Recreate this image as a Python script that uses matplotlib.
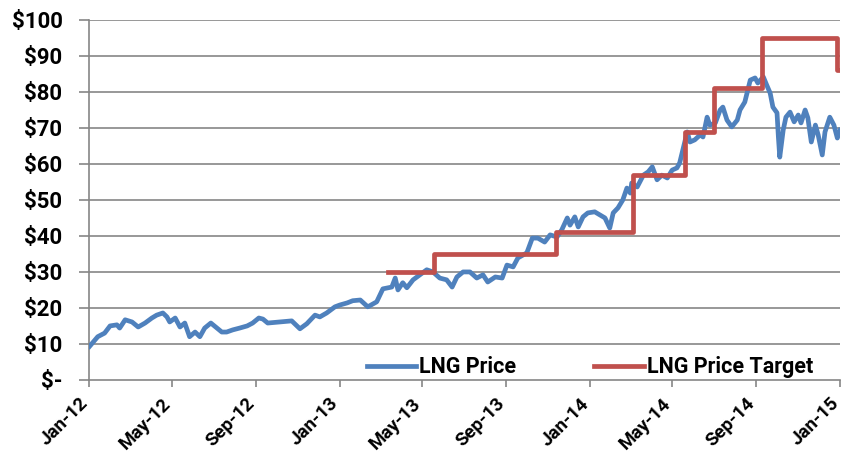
import matplotlib
matplotlib.use("Agg")
import matplotlib.pyplot as plt
import matplotlib.dates as mdates
import matplotlib.transforms as mtransforms
from matplotlib.ticker import FuncFormatter
import numpy as np

# LNG daily price
price_dates = [
    "2012-01-02", "2012-01-14", "2012-01-24", "2012-02-01", "2012-02-11", "2012-02-15",
    "2012-02-23", "2012-03-04", "2012-03-13", "2012-03-23", "2012-04-02", "2012-04-09",
    "2012-04-18", "2012-04-24", "2012-04-28", "2012-05-06", "2012-05-13", "2012-05-20",
    "2012-05-27", "2012-06-04", "2012-06-11", "2012-06-18", "2012-06-27", "2012-07-06",
    "2012-07-13", "2012-07-20", "2012-07-29", "2012-08-08", "2012-08-19", "2012-08-27",
    "2012-09-05", "2012-09-11", "2012-09-18", "2012-10-06", "2012-10-23", "2012-11-04",
    "2012-11-14", "2012-11-26", "2012-12-03", "2012-12-13", "2012-12-25", "2013-01-01",
    "2013-01-12", "2013-01-20", "2013-01-31", "2013-02-11", "2013-02-24", "2013-03-05",
    "2013-03-18", "2013-03-23", "2013-03-27", "2013-04-03", "2013-04-09", "2013-04-18",
    "2013-04-28", "2013-05-08", "2013-05-17", "2013-05-27", "2013-06-06", "2013-06-14",
    "2013-06-21", "2013-06-30", "2013-07-10", "2013-07-20", "2013-07-29", "2013-08-05",
    "2013-08-16", "2013-08-26", "2013-09-02", "2013-09-11", "2013-09-18", "2013-10-01",
    "2013-10-09", "2013-10-17", "2013-10-27", "2013-11-04", "2013-11-14", "2013-11-21",
    "2013-11-29", "2013-12-03", "2013-12-10", "2013-12-15", "2013-12-22", "2013-12-29",
    "2014-01-08", "2014-01-16", "2014-01-23", "2014-01-30", "2014-02-04", "2014-02-11",
    "2014-02-18", "2014-02-24", "2014-03-01", "2014-03-03", "2014-03-11", "2014-03-20",
    "2014-03-27", "2014-04-02", "2014-04-09", "2014-04-16", "2014-04-24", "2014-05-01",
    "2014-05-08", "2014-05-12", "2014-05-23", "2014-05-27", "2014-06-03", "2014-06-11",
    "2014-06-15", "2014-06-21", "2014-06-25", "2014-07-03", "2014-07-10", "2014-07-14",
    "2014-07-20", "2014-07-27", "2014-08-04", "2014-08-08", "2014-08-15", "2014-08-23",
    "2014-08-30", "2014-09-03", "2014-09-11", "2014-09-16", "2014-09-21", "2014-09-25",
    "2014-10-01", "2014-10-03", "2014-10-05", "2014-10-10", "2014-10-14", "2014-10-20",
    "2014-10-26", "2014-11-01", "2014-11-05", "2014-11-11", "2014-11-15", "2014-11-20",
    "2014-11-26", "2014-11-30", "2014-12-06", "2014-12-10", "2014-12-17", "2014-12-23",
    "2014-12-28", "2015-01-01",
]
price_values = [
    9.3, 12.0, 13.0, 15.0, 15.3, 14.4,
    16.7, 16.1, 14.7, 15.8, 17.2, 18.0,
    18.6, 17.5, 16.1, 17.2, 14.7, 15.8,
    12.0, 13.3, 12.0, 14.4, 15.8, 14.4,
    13.3, 13.3, 13.9, 14.4, 15.0, 15.8,
    17.2, 16.9, 15.8, 16.1, 16.4, 14.2,
    15.6, 18.0, 17.5, 18.6, 20.3, 20.8,
    21.4, 22.0, 22.2, 20.3, 21.7, 25.3,
    25.8, 28.3, 25.0, 27.0, 25.6, 27.8,
    29.2, 30.6, 30.0, 28.3, 27.8, 25.8,
    28.6, 30.0, 30.0, 28.3, 29.2, 27.2,
    28.6, 28.3, 31.9, 31.4, 33.9, 35.3,
    39.4, 39.4, 38.3, 40.3, 39.7, 41.7,
    45.0, 43.0, 45.3, 42.5, 45.3, 46.4,
    46.7, 45.8, 45.0, 42.2, 46.4, 47.8,
    50.0, 53.3, 51.9, 54.7, 53.6, 56.9,
    57.8, 59.2, 55.6, 56.9, 56.1, 58.3,
    58.9, 60.3, 68.9, 66.1, 66.7, 68.1,
    67.5, 73.0, 70.8, 71.4, 75.0, 75.8,
    72.2, 70.3, 72.2, 75.0, 77.2, 83.3,
    83.9, 82.5, 84.2, 81.9, 79.7, 75.8,
    74.2, 67.5, 61.9, 69.4, 73.0, 74.4,
    71.7, 73.6, 71.4, 75.0, 72.8, 66.1,
    70.8, 68.1, 62.5, 68.9, 73.0, 70.8,
    67.2, 69.4,
]

# price target steps (value holds from each date to the next)
target_dates = ["2013-03-12", "2013-05-18", "2013-11-12", "2014-03-05",
                "2014-05-20", "2014-07-01", "2014-09-09", "2014-12-28", "2015-01-01"]
target_values = [30, 35, 41, 57, 69, 81, 95, 86, 86]

price_x = np.array(price_dates, dtype="datetime64[D]")
target_x = np.array(target_dates, dtype="datetime64[D]")

plt.rcParams["font.family"] = ["Roboto", "DejaVu Sans"]
plt.rcParams["font.weight"] = "bold"

fig = plt.figure(figsize=(8.46, 4.65), dpi=100)
ax = fig.add_axes([0.105, 0.183, 0.888, 0.774])

grid_col = "#868686"
for v in range(10, 101, 10):
    ax.axhline(v, color=grid_col, linewidth=1.2, zorder=1)

ax.plot(price_x, price_values, color="#4F81BD", linewidth=3.4,
        solid_joinstyle="round", label="LNG Price", zorder=3)
ax.plot(target_x, target_values, color="#C0504D", linewidth=3.4,
        drawstyle="steps-post", label="LNG Price Target", zorder=4)

ax.set_xlim(np.datetime64("2012-01-01"), np.datetime64("2015-01-01"))
ax.set_ylim(0, 100)
ax.set_yticks(range(0, 101, 10))
ax.yaxis.set_major_formatter(FuncFormatter(lambda v, p: "$-" if v == 0 else "${:.0f}".format(v)))

ax.xaxis.set_major_locator(mdates.MonthLocator(bymonth=[1, 5, 9]))
ax.xaxis.set_major_formatter(mdates.DateFormatter("%b-%y"))
ax.tick_params(axis="y", length=7, width=1.2, color=grid_col, pad=12)
ax.tick_params(axis="x", length=5, width=1.2, color=grid_col, pad=10)

# shift the rotated date labels a little left so the last one stays inside
shift = mtransforms.ScaledTranslation(-4 / 100, 0, fig.dpi_scale_trans)
for lbl in ax.get_xticklabels():
    lbl.set_rotation(45)
    lbl.set_ha("right")
    lbl.set_va("center")
    lbl.set_rotation_mode("anchor")
    lbl.set_fontsize(13.5)
    lbl.set_fontweight("bold")
    lbl.set_transform(lbl.get_transform() + shift)
plt.setp(ax.get_yticklabels(), fontsize=16, fontweight="bold")

for s in ["top", "right"]:
    ax.spines[s].set_visible(False)
for s in ["left", "bottom"]:
    ax.spines[s].set_color(grid_col)
    ax.spines[s].set_linewidth(1.2)

ax.legend(loc="center", bbox_to_anchor=(0.667, 0.035), ncol=2, frameon=False,
          prop={"size": 15.5, "weight": "bold"}, handlelength=2.3,
          columnspacing=3.6, handletextpad=0.15)

fig.savefig("out.png", dpi=100)
